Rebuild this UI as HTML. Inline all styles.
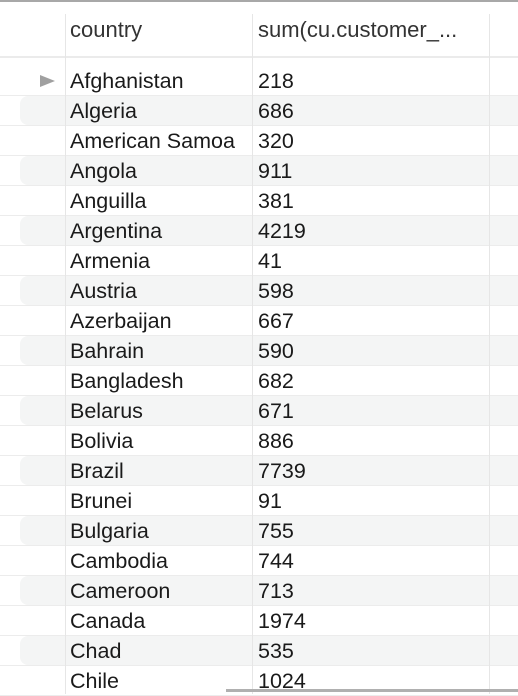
<!DOCTYPE html>
<html><head><meta charset="utf-8"><style>
body{margin:0;width:518px;height:694px;overflow:hidden;background:#fff;font-family:"Liberation Sans",sans-serif;color:#1a1a1a;position:relative}
.topbar{position:absolute;left:0;top:0;width:518px;height:2px;background:#a8a8a8}
.hdr{position:absolute;top:14px;height:32px;font-size:22px;line-height:32px;color:#333;white-space:nowrap}
.vl{position:absolute;width:1px;background:#e6e6e6}
.hline{position:absolute;left:0;width:518px;height:2px;background:#ebebeb;top:56px}
.row{position:absolute;left:0;width:518px;height:30px;box-sizing:border-box;border-bottom:1px solid #ececec}
.row.alt .bg{position:absolute;left:20px;right:0;top:0;bottom:0;background:#f4f5f5;border-radius:8px 0 0 8px}
.row .c1,.row .c2{position:absolute;top:0;line-height:30px;font-size:21.5px;white-space:nowrap}
.c1{left:70px}.c2{left:258px}
.arrow{position:absolute;left:40px;top:9px;width:0;height:0;border-left:15px solid #a0a0a0;border-top:6px solid transparent;border-bottom:6px solid transparent}
.scroll{position:absolute;left:226px;top:689px;width:292px;height:3px;background:#b0b0b0}
</style></head><body>
<div class="topbar"></div>
<div class="hdr" style="left:70px">country</div>
<div class="hdr" style="left:258px">sum(cu.customer_...</div>
<div class="hline"></div>
<div id="rows"></div>
<div class="vl" style="left:65px;top:14px;height:680px"></div>
<div class="vl" style="left:252px;top:14px;height:680px"></div>
<div class="vl" style="left:489px;top:14px;height:680px"></div>
<div class="scroll"></div>
<script>
const countries=["Afghanistan","Algeria","American Samoa","Angola","Anguilla","Argentina","Armenia","Austria","Azerbaijan","Bahrain","Bangladesh","Belarus","Bolivia","Brazil","Brunei","Bulgaria","Cambodia","Cameroon","Canada","Chad","Chile"];
const sums=[218,686,320,911,381,4219,41,598,667,590,682,671,886,7739,91,755,744,713,1974,535,1024];
const host=document.getElementById('rows');
countries.forEach((c,i)=>{
  const r=document.createElement('div');
  r.className='row'+(i%2?' alt':'');
  r.style.top=(66+30*i)+'px';
  
  
  let h='';
  if(i%2)h+='<div class="bg"></div>';
  if(i===0)h+='<div class="arrow"></div>';
  h+='<div class="c1"></div><div class="c2"></div>';
  r.innerHTML=h;
  r.querySelector('.c1').textContent=c;
  r.querySelector('.c1');
  r.querySelector('.c1');
  r.querySelector('.c2').textContent=sums[i];
  r.querySelector('.c2');
  r.querySelector('.c2');
  host.appendChild(r);
});
</script>
</body></html>
